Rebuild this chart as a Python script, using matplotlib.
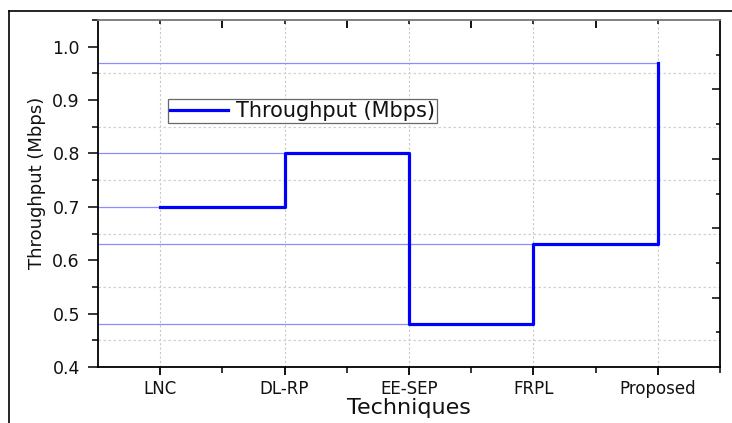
import matplotlib
matplotlib.use("Agg")
import matplotlib.pyplot as plt
from matplotlib.lines import Line2D
from matplotlib.ticker import MultipleLocator, FixedLocator, NullFormatter

plt.rcParams['font.family'] = ['DejaVu Sans']

techniques = ["LNC", "DL-RP", "EE-SEP", "FRPL", "Proposed"]
throughput = [0.70, 0.80, 0.48, 0.63, 0.97]
y_ticks = [0.4, 0.5, 0.6, 0.7, 0.8, 0.9, 1.0]

x = list(range(1, len(techniques) + 1))

fig = plt.figure(figsize=(7.32, 4.23), dpi=100)
ax = fig.add_axes([98 / 732, 1 - 367 / 423, (720 - 98) / 732, (367 - 20) / 423])

ax.set_xlim(0.5, 5.5)
ax.set_ylim(0.4, 1.05)

# grid: dotted verticals at categories, dotted horizontals at half steps
for xi in x:
    ax.axvline(xi, color="#c8c8c8", lw=0.8, ls=(0, (2, 2)), zorder=0)
for yv in [0.45, 0.55, 0.65, 0.75, 0.85, 0.95]:
    ax.axhline(yv, color="#d0d0d0", lw=0.9, ls=(0, (2, 2)), zorder=0)

# drop lines from the y axis to each point
ax.hlines(throughput, 0.5, x, colors="#8c8cff", lw=0.9, zorder=1)

ax.plot(x, throughput, drawstyle="steps-post", color="#0000ff", lw=2.3,
        zorder=3, label="Throughput (Mbps)")

ax.set_xticks(x)
ax.set_xticklabels(techniques, fontsize=12, color="#111111")
ax.xaxis.set_minor_locator(FixedLocator([1.5, 2.5, 3.5, 4.5, 5.5]))
ax.set_yticks(y_ticks)
ax.set_yticklabels([f"{v:.1f}" for v in y_ticks], fontsize=12.5, color="#111111")
ax.yaxis.set_minor_locator(MultipleLocator(0.05))

ax.tick_params(axis="x", which="major", direction="out", length=6, width=1.3, pad=3)
ax.tick_params(axis="x", which="minor", direction="out", length=4, width=1.1)
ax.tick_params(axis="y", which="major", direction="out", length=7, width=1.1, pad=6)
ax.tick_params(axis="y", which="minor", direction="out", length=4, width=1.1)

for s in ax.spines.values():
    s.set_linewidth(1.3)
ax.spines["top"].set_color("#777777")

ax.set_xlabel("Techniques", fontsize=16, color="#111111")
ax.xaxis.set_label_coords(0.5, (367 - 398) / 347)
ax.xaxis.label.set_va("top")
ax.set_ylabel("Throughput (Mbps)", fontsize=13, color="#111111")
ax.yaxis.set_label_coords((46 - 98) / 622, (367 - 183) / 347)

# top axis ticks
top = ax.secondary_xaxis("top")
top.set_xticks([1.5, 2.5, 3.5, 4.5])
top.xaxis.set_minor_locator(FixedLocator(x))
top.xaxis.set_major_formatter(NullFormatter())
top.tick_params(which="major", direction="in", length=6, width=1.3)
top.tick_params(which="minor", direction="in", length=3, width=1.1)
top.spines["top"].set_visible(False)

# right axis ticks
right = ax.twinx()
right.set_ylim(0, 10)
right.set_yticks([2, 4, 6, 8])
right.yaxis.set_minor_locator(FixedLocator([1, 3, 5, 7, 9]))
right.yaxis.set_major_formatter(NullFormatter())
right.tick_params(which="major", direction="in", length=6, width=1.1)
right.tick_params(which="minor", direction="in", length=3, width=1.1)
for s in right.spines.values():
    s.set_visible(False)

leg = ax.legend(loc="upper left", bbox_to_anchor=((168 - 98) / 622, (367 - 99) / 347),
                fontsize=15, frameon=True, fancybox=False, handlelength=2.8,
                handletextpad=0.35, borderpad=0.1, borderaxespad=0)
leg.get_frame().set_edgecolor("#444444")
leg.get_frame().set_linewidth(0.9)
for t in leg.get_texts():
    t.set_color("#111111")

# outer frame lines
fig.add_artist(Line2D([9 / 732, 1.0], [1 - 11 / 423, 1 - 11 / 423], color="black", lw=1.2))
fig.add_artist(Line2D([9 / 732, 9 / 732], [0, 1 - 11 / 423], color="black", lw=1.2))

fig.savefig("out.png", dpi=100)
